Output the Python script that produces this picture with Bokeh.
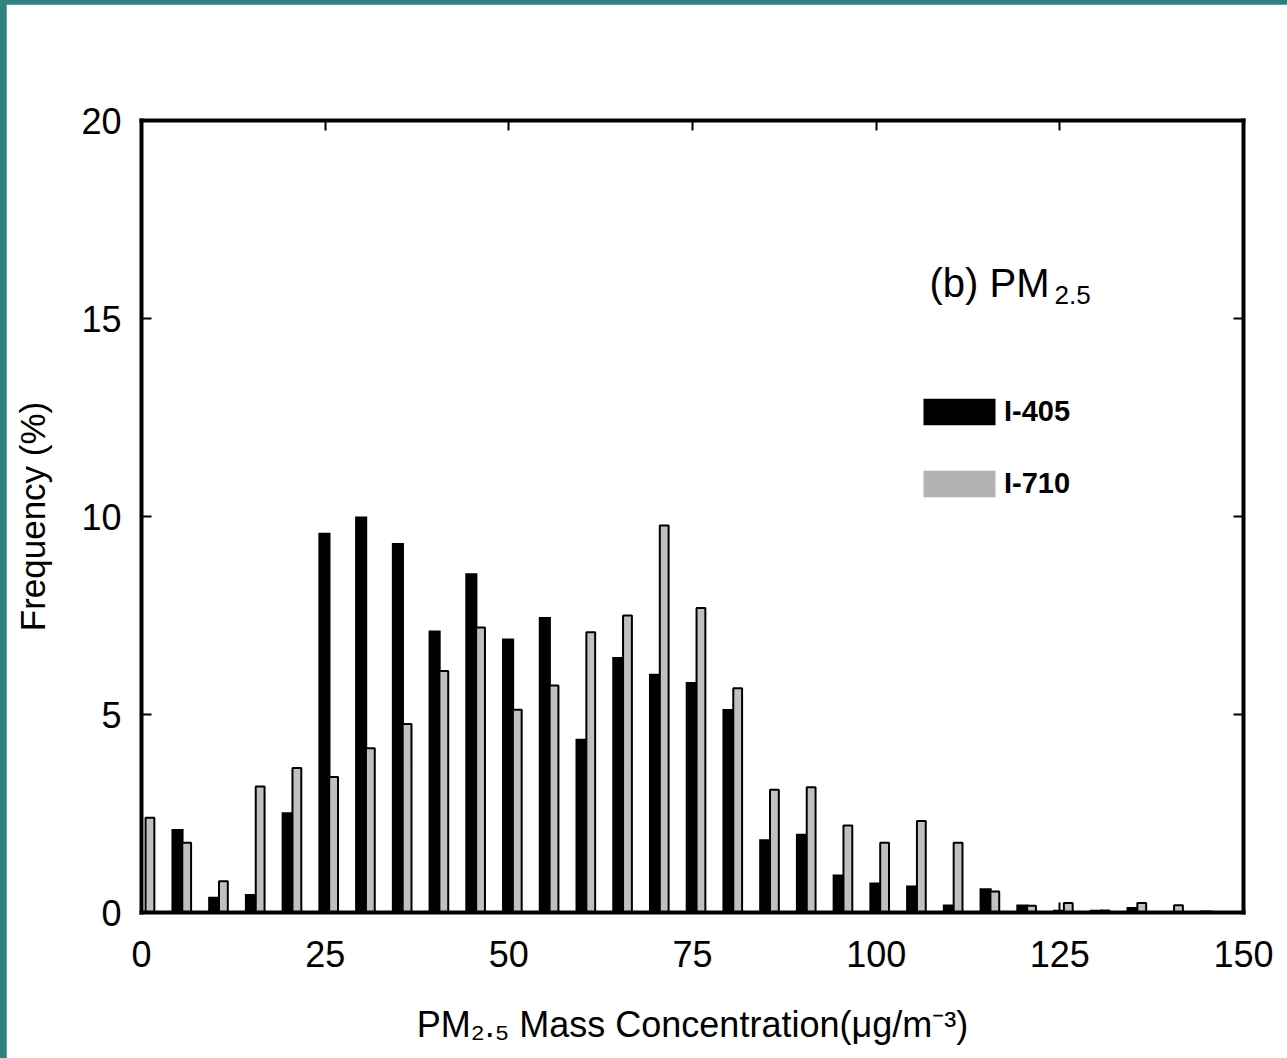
from bokeh.plotting import figure
from bokeh.models import LinearAxis, Range1d, Label, Legend, LegendItem, ColumnDataSource, FixedTicker
from bokeh.layouts import column
from bokeh.embed import file_html
from bokeh.resources import INLINE

# ---------------- data ----------------
bins = [0, 5, 10, 15, 20, 25, 30, 35, 40, 45, 50, 55, 60, 65, 70, 75,
        80, 85, 90, 95, 100, 105, 110, 115, 120, 125, 130, 135, 140, 145]
i405 = [0.00, 2.11, 0.40, 0.47, 2.53, 9.59, 10.00, 9.33, 7.12, 8.57, 6.92, 7.46, 4.39, 6.45, 6.03, 5.82,
        5.14, 1.85, 1.99, 0.96, 0.76, 0.68, 0.20, 0.61, 0.20, 0.07, 0.07, 0.14, 0.00, 0.05]
i710 = [2.39, 1.76, 0.79, 3.18, 3.65, 3.42, 4.15, 4.76, 6.10, 7.20, 5.12, 5.73, 7.08, 7.50, 9.77, 7.69,
        5.66, 3.10, 3.16, 2.20, 1.76, 2.31, 1.76, 0.53, 0.17, 0.24, 0.05, 0.24, 0.18, 0.00]
series_names = ["I-405", "I-710"]
x_ticks = [0, 25, 50, 75, 100, 125, 150]
y_ticks = [0, 5, 10, 15, 20]
x_title = "PM\u2082.\u2085 Mass Concentration(\u03bcg/m\u207b\u00b3)"
y_title = "Frequency (%)"

FONT = "Liberation Sans"

# frame geometry (page pixels) used only to place free text
FL, FR, FT, FB = 141.0, 1243.0, 120.0, 912.0
def px2x(px):
    return (px - FL) / (FR - FL) * 150.0
def py2y(py):
    return (FB - py) / (FB - FT) * 20.0

p = figure(width=1281, height=1054, x_range=Range1d(0, 150), y_range=Range1d(0, 20),
           output_backend="svg", toolbar_location=None,
           min_border_left=135, min_border_right=44, min_border_top=116, min_border_bottom=146,
           background_fill_color="white", border_fill_color="white")
p.outline_line_color = None
p.grid.visible = False

p.add_layout(LinearAxis(), "above")
p.add_layout(LinearAxis(), "right")

for ax in p.xaxis:
    ax.ticker = FixedTicker(ticks=x_ticks)
for ax in p.yaxis:
    ax.ticker = FixedTicker(ticks=y_ticks)

for ax in list(p.xaxis) + list(p.yaxis):
    ax.axis_line_width = 4
    ax.axis_line_color = "black"
    ax.axis_line_cap = "square"
    ax.major_tick_in = 10
    ax.major_tick_out = 0
    ax.major_tick_line_width = 2
    ax.major_tick_line_color = "black"
    ax.minor_tick_line_color = None
    ax.major_label_text_font = FONT
    ax.major_label_text_font_size = "36px"
    ax.major_label_text_color = "black"

# top/right axes: ticks only, no labels
for ax in (p.above[0], p.right[0]):
    ax.major_label_text_font_size = "1px"
    ax.major_label_text_color = None
    ax.major_label_standoff = 0

p.below[0].major_label_standoff = 28
p.below[0].axis_label = x_title
p.below[0].axis_label_text_font = FONT
p.below[0].axis_label_text_font_size = "36px"
p.below[0].axis_label_text_font_style = "normal"
p.below[0].axis_label_text_color = "black"
p.below[0].axis_label_standoff = 34

p.left[0].major_label_standoff = 20
p.left[0].axis_label = y_title
p.left[0].axis_label_text_font = FONT
p.left[0].axis_label_text_font_size = "35px"
p.left[0].axis_label_text_font_style = "normal"
p.left[0].axis_label_text_color = "black"
p.left[0].axis_label_standoff = 26

# ---------------- bars ----------------
src = ColumnDataSource(dict(
    bin=bins, i405=i405, i710=i710,
    x405=[b - 0.1 for b in bins],
    x710=[b + 1.15 for b in bins],
))
p.vbar(x="x405", top="i405", bottom=0, width=1.65, fill_color="black", line_color=None, source=src)
p.vbar(x="x710", top="i710", bottom=0, width=1.2, fill_color="#c0c0c0", line_color="black",
       line_width=2, source=src)

# ---------------- legend (swatch-only renderers, nothing drawn in the plot) ----------------
nan = float("nan")
l1 = p.vbar(x=[nan], top=[nan], width=1, fill_color="black", line_color=None)
l2 = p.vbar(x=[nan], top=[nan], width=1, fill_color="#b3b3b3", line_color=None)
legend = Legend(items=[LegendItem(label=series_names[0], renderers=[l1]),
                       LegendItem(label=series_names[1], renderers=[l2])],
                location=(773, 412), orientation="vertical",
                glyph_width=90, glyph_height=33, label_height=26, spacing=39,
                padding=0, margin=0, border_line_color=None, background_fill_alpha=0,
                label_text_font=FONT, label_text_font_style="bold", label_text_font_size="29px",
                label_text_color="black", label_standoff=0)
p.add_layout(legend)

# ---------------- annotation "(b) PM2.5" ----------------
def lab(x, y, text, size, style="normal"):
    p.add_layout(Label(x=x, y=y, text=text, text_font=FONT, text_font_size=size,
                       text_font_style=style, text_baseline="alphabetic", text_align="left",
                       text_color="black"))

lab(px2x(929), py2y(282), "(b) PM", "40px")
lab(px2x(1054), py2y(294), "2.5", "26px")

layout = column(p, styles={"background-color": "#2e8280", "padding-left": "6px", "padding-top": "4px"})

open("out.html", "w").write(file_html(layout, INLINE))
